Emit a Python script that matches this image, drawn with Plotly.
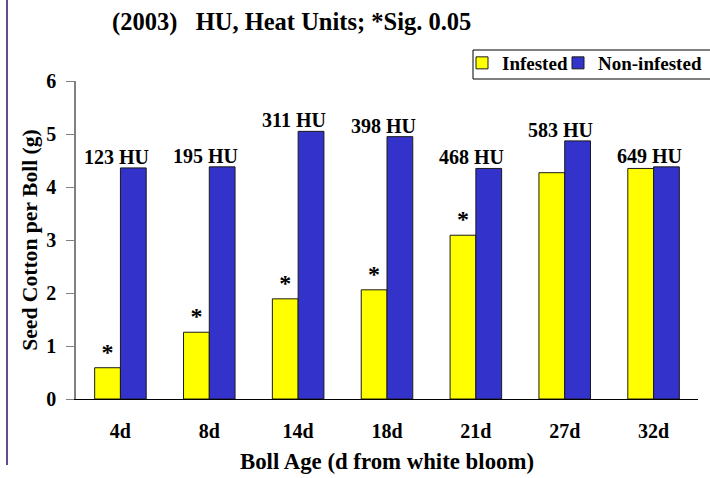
import plotly.graph_objects as go

categories = ["4d", "8d", "14d", "18d", "21d", "27d", "32d"]
infested = [0.59, 1.26, 1.89, 2.06, 3.09, 4.27, 4.35]
non_infested = [4.36, 4.38, 5.05, 4.95, 4.35, 4.87, 4.38]
heat_units = ["123 HU", "195 HU", "311 HU", "398 HU", "468 HU", "583 HU", "649 HU"]
significant = [True, True, True, True, True, False, False]

FONT = "Liberation Serif"
L, R, T, B = 76, 12, 81, 79
W, H = 710, 478
PW, PH = W - L - R, H - T - B


def px_x(px):
    return (px - L) / PW


def px_y(py):
    return (H - B - py) / PH


fig = go.Figure()
fig.add_trace(go.Bar(
    name="<b>Infested</b>", x=categories, y=infested, legend="legend",
    marker=dict(color="#FFFF00", line=dict(color="#1a1a1a", width=1)),
    text=["<b>*</b>" if s else "" for s in significant],
    textposition="outside", cliponaxis=False,
    textfont=dict(family=FONT, size=24, color="black"),
))
fig.add_trace(go.Bar(
    name="<b>Non-infested</b>", x=categories, y=non_infested, legend="legend2",
    marker=dict(color="#3333CC", line=dict(color="#1a1a1a", width=1)),
))

for c, a, b, hu in zip(categories, infested, non_infested, heat_units):
    fig.add_annotation(x=c, y=max(a, b), xref="x", yref="y", text=f"<b>{hu}</b>",
                       showarrow=False, yanchor="bottom", yshift=-2, xshift=-4,
                       font=dict(family=FONT, size=20, color="black"))

fig.add_annotation(x=px_x(110), y=px_y(22), xref="paper", yref="paper",
                   xanchor="left", yanchor="middle", showarrow=False,
                   text="<b>(2003)   HU, Heat Units; *Sig. 0.05</b>",
                   font=dict(family=FONT, size=24.5, color="black"))

# left frame line and legend box
fig.add_shape(type="line", xref="paper", yref="paper",
              x0=px_x(7), x1=px_x(7), y0=px_y(0), y1=px_y(465),
              line=dict(color="#2e1065", width=1.5))
fig.add_shape(type="rect", xref="paper", yref="paper",
              x0=px_x(473), x1=px_x(716), y0=px_y(50), y1=px_y(79),
              line=dict(color="black", width=1), fillcolor="white", layer="below")

leg_common = dict(orientation="h", xanchor="left", y=px_y(44), yanchor="top",
                  borderwidth=0, bgcolor="rgba(0,0,0,0)",
                  font=dict(family=FONT, size=19, color="black"), itemwidth=30)

fig.update_layout(
    width=W, height=H,
    margin=dict(l=L, r=R, t=T, b=B, autoexpand=False),
    paper_bgcolor="white", plot_bgcolor="white",
    barmode="group", bargap=0.42, bargroupgap=0,
    font=dict(family=FONT, size=20, color="black"),
    showlegend=True,
    legend=dict(x=px_x(462), **leg_common),
    legend2=dict(x=px_x(558), **leg_common),
    xaxis=dict(showline=True, linecolor="black", linewidth=1, ticks="",
               showgrid=False, zeroline=False,
               tickfont=dict(family=FONT, size=20, color="black"),
               tickprefix="<b>", ticksuffix="</b>",
               ticklabelstandoff=14,
               title=dict(text="<b>Boll Age (d from white bloom)</b>",
                          font=dict(family=FONT, size=22.8, color="black"), standoff=12)),
    yaxis=dict(range=[0, 6], dtick=1, showline=True, linecolor="#808080", linewidth=1.5,
               ticks="outside", ticklen=8, tickcolor="#808080",
               showgrid=False, zeroline=False,
               tickfont=dict(family=FONT, size=20, color="black"),
               tickprefix="<b>", ticksuffix="</b>",
               ticklabelstandoff=6,
               title=dict(text="<b>Seed Cotton per Boll (g)</b>",
                          font=dict(family=FONT, size=21.6, color="black"), standoff=3)),
)

fig.write_html("out.html", config={"displayModeBar": False},
               post_script="document.body.style.margin='0px';document.body.style.overflow='hidden';")
